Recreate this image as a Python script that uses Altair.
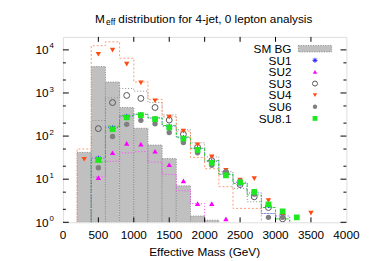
import altair as alt
import pandas as pd

# ---------------- data ----------------
BIN = 200
bg_lo = [200, 400, 600, 800, 1000, 1200, 1400, 1600, 1800, 2000]
bg_val = [42, 4100, 1800, 460, 152, 62, 30, 7.0, 1.4, 1.12]

su1_x = [500, 700, 900, 1100, 1300, 1500, 1700, 1900, 2100, 2300, 2500, 2700, 2900, 3100]
su1_y = [30, 150, 280, 310, 250, 165, 90, 50, 25, 13, 8.0, 5.0, 2.5, 1.5]
su2_x = [500, 700, 900, 1100, 1300, 1500, 1700, 1900, 2100, 2300]
su2_y = [10.9, 41, 68, 65, 44.5, 21.6, 9.1, 2.7, 2.7, 1.2]
su3_x = [500, 700, 900, 1100, 1300, 1500, 1700, 1900, 2100, 2300, 2500, 2700, 2900, 3100]
su3_y = [149, 600, 877, 748, 460, 235, 110, 55, 27, 14, 7.5, 3.9, 2.2, 1.2]
su4_x = [300, 500, 700, 900, 1100, 1300, 1500, 1700, 1900, 2100, 2300, 2500, 2700, 2900, 3100, 3500]
su4_y = [29, 7900, 9900, 4660, 1710, 660, 275, 130, 63, 33, 16, 9.5, 10.3, 3.2, 1.43, 1.63]
su6_x = [500, 700, 900, 1100, 1300, 1500, 1700, 1900, 2100, 2300, 2500, 2700, 2900, 3100]
su6_y = [18.4, 98, 187, 232, 193, 121, 71, 41, 21, 15, 9.0, 4.5, 1.3, 1.3]
su81_x = [500, 700, 900, 1100, 1300, 1500, 1700, 1900, 2100, 2300, 2500, 2700, 2900, 3100, 3300]
su81_y = [28, 144, 270, 305, 246, 160, 87, 48, 24, 12.3, 8.4, 5.1, 2.6, 1.8, 1.3]

# step outlines (first bin edge, then one value per 200 GeV bin)
su1_step_start, su1_step = 400, [31, 160, 290, 320, 262, 170, 92, 52, 26, 13, 8.5, 4.8, 1.6, 1.4]
su2_step_start, su2_step = 400, [11.3, 26, 41, 43.6, 25, 12.9, 5.4, 2.7]
su3_step_start, su3_step = 400, [230, 770, 1270, 1100, 600, 310, 140, 70, 33, 15, 6.1, 3.0, 1.6]
su4_step_start, su4_step = 200, [50, 12500, 15400, 6400, 1800, 710, 280, 130, 32, 17.5, 6.7, 2.1, 2.1]
su81_step_start, su81_step = 400, [25, 170, 300, 320, 265, 175, 95, 52, 27, 13, 8.0, 4.3, 2.2, 1.2]

x_ticks = [0, 500, 1000, 1500, 2000, 2500, 3000, 3500, 4000]
y_major = [1, 10, 100, 1000, 10000]
y_exp = ["0", "1", "2", "3", "4"]
y_minor = [2, 5, 20, 50, 200, 500, 2000, 5000]

legend_names = ["SM BG", "SU1", "SU2", "SU3", "SU4", "SU6", "SU8.1"]
title_parts = ["M", "eff", "distribution for 4-jet, 0 lepton analysis"]
x_title = "Effective Mass (GeV)"

# ---------------- layout ----------------
W, H = 289, 189
FONT = "Liberation Sans"
XS = alt.Scale(domain=[0, 4000], nice=False, zero=False)
YS = alt.Scale(type="log", domain=[1, 20000], nice=False)

def X(f):
    return alt.X(f, type="quantitative", scale=XS, axis=None)

def Y(f):
    return alt.Y(f, type="quantitative", scale=YS, axis=None)

layers = []

# SM background boxes
bg = pd.DataFrame({"lo": bg_lo, "hi": [v + BIN for v in bg_lo], "val": bg_val, "base": [1.0] * len(bg_lo)})
layers.append(
    alt.Chart(bg).mark_rect(fill="#c0c0c0", stroke="#8a8a8a", strokeDash=[1, 1.5], strokeWidth=1, clip=True)
    .encode(x=X("lo"), x2="hi", y=Y("val"), y2="base")
)

def step_df(start, vals):
    xs, ys = [start], [1.0]
    for i, v in enumerate(vals):
        lo = start + i * BIN
        xs += [lo, lo + BIN]
        ys += [v, v]
    xs.append(start + len(vals) * BIN)
    ys.append(1.0)
    return pd.DataFrame({"x": xs, "y": ys, "i": list(range(len(xs)))})

steps = [
    (su3_step_start, su3_step, "#8c8c8c", [1, 2]),
    (su2_step_start, su2_step, "#ff40ff", [1, 2]),
    (su1_step_start, su1_step, "#5050ff", [1, 2]),
    (su81_step_start, su81_step, "#30d030", [3, 2]),
    (su4_step_start, su4_step, "#ff9a70", [2, 2]),
]
for start, vals, col, dash in steps:
    layers.append(
        alt.Chart(step_df(start, vals)).mark_line(color=col, strokeDash=dash, strokeWidth=1, clip=True)
        .encode(x=X("x"), y=Y("y"), order=alt.Order("i:Q"))
    )

ASTER = "M-1,0L1,0M0,-1L0,1M-0.7,-0.7L0.7,0.7M-0.7,0.7L0.7,-0.7"
series = [
    ("SU1", su1_x, su1_y, dict(shape=ASTER, filled=False, stroke="#2020ff", strokeWidth=1, size=36)),
    ("SU2", su2_x, su2_y, dict(shape="triangle-up", filled=True, color="#ff00ff", size=30)),
    ("SU3", su3_x, su3_y, dict(shape="circle", filled=False, stroke="#555555", strokeWidth=1, size=36)),
    ("SU4", su4_x, su4_y, dict(shape="triangle-down", filled=True, color="#ff4a12", size=30)),
    ("SU6", su6_x, su6_y, dict(shape="circle", filled=True, color="#7f7f7f", size=30)),
    ("SU8.1", su81_x, su81_y, dict(shape="square", filled=True, color="#1ee81e", size=34)),
]
for name, xs, ys, style in series:
    df = pd.DataFrame({"x": xs, "y": ys})
    layers.append(alt.Chart(df).mark_point(opacity=1, clip=True, **style).encode(x=X("x"), y=Y("y")))

# inward ticks on all four sides
ytm = pd.DataFrame({"v": y_major})
ytn = pd.DataFrame({"v": y_minor})
xt = pd.DataFrame({"v": x_ticks[1:-1]})
tick_style = dict(color="black", strokeWidth=1)
layers += [
    alt.Chart(ytm).mark_rule(**tick_style).encode(y=Y("v"), x=alt.value(0), x2=alt.value(6)),
    alt.Chart(ytm).mark_rule(**tick_style).encode(y=Y("v"), x=alt.value(W - 6), x2=alt.value(W)),
    alt.Chart(ytn).mark_rule(**tick_style).encode(y=Y("v"), x=alt.value(0), x2=alt.value(3)),
    alt.Chart(ytn).mark_rule(**tick_style).encode(y=Y("v"), x=alt.value(W - 3), x2=alt.value(W)),
    alt.Chart(xt).mark_rule(**tick_style).encode(x=X("v"), y=alt.value(H), y2=alt.value(H - 5)),
    alt.Chart(xt).mark_rule(**tick_style).encode(x=X("v"), y=alt.value(0), y2=alt.value(5)),
]

# tick labels
xl = pd.DataFrame({"v": x_ticks, "t": [str(v) for v in x_ticks]})
layers.append(
    alt.Chart(xl).mark_text(font=FONT, fontSize=12, align="center", baseline="alphabetic", color="black")
    .encode(x=X("v"), y=alt.value(H + 17.4), text="t:N")
)
yl = pd.DataFrame({"v": y_major, "e": y_exp, "b": ["10"] * len(y_major)})
layers.append(
    alt.Chart(yl).mark_text(font=FONT, fontSize=12, align="right", baseline="alphabetic", dy=4.3, color="black")
    .encode(y=Y("v"), x=alt.value(-14.7), text="b:N")
)
layers.append(
    alt.Chart(yl).mark_text(font=FONT, fontSize=8, align="left", baseline="alphabetic", dy=-1.5, color="black")
    .encode(y=Y("v"), x=alt.value(-13.7), text="e:N")
)

# axis title and chart title (with subscript)
one = pd.DataFrame({"t": [x_title]})
layers.append(
    alt.Chart(one).mark_text(font=FONT, fontSize=12, align="center", baseline="alphabetic", color="black")
    .encode(x=alt.value(W / 2), y=alt.value(H + 34.7), text="t:N")
)
tt = pd.DataFrame({"t": title_parts, "px": [32.7, 44.0, 56.5], "py": [-14.3, -11.7, -14.3],
                   "fs": [12, 8.5, 12]})
layers.append(
    alt.Chart(tt).mark_text(font=FONT, align="left", baseline="alphabetic", color="black")
    .encode(x=alt.X("px:Q", scale=None), y=alt.Y("py:Q", scale=None), text="t:N",
            size=alt.Size("fs:Q", scale=None, legend=None))
)

# legend (gnuplot style: label on the left, sample on the right)
LX_TEXT, LX_SYM, LY0, LSTEP = 233, 257, 16.3, 11.85
lg = pd.DataFrame({"t": legend_names, "ly": [LY0 + i * LSTEP for i in range(len(legend_names))]})
layers.append(
    alt.Chart(lg).mark_text(font=FONT, fontSize=12, align="right", baseline="alphabetic", color="black")
    .encode(x=alt.value(LX_TEXT), y=alt.Y("ly:Q", scale=None), text="t:N")
)
sw = pd.DataFrame({"a": [LX_SYM - 17], "b": [LX_SYM + 17], "c": [LY0 - 4.3 - 3.3], "d": [LY0 - 4.3 + 3.3]})
layers.append(
    alt.Chart(sw).mark_rect(fill="#c0c0c0", stroke="#8a8a8a", strokeDash=[1, 1.5], strokeWidth=1)
    .encode(x=alt.X("a:Q", scale=None), x2="b", y=alt.Y("c:Q", scale=None), y2="d")
)
for k, (name, xs, ys, style) in enumerate(series):
    st = dict(style)
    st["size"] = max(18, st["size"] - 10)
    df = pd.DataFrame({"ly": [LY0 + (k + 1) * LSTEP - 4.3]})
    layers.append(
        alt.Chart(df).mark_point(opacity=1, **st).encode(x=alt.value(LX_SYM), y=alt.Y("ly:Q", scale=None))
    )

chart = (
    alt.layer(*layers)
    .properties(width=W, height=H, autosize=alt.AutoSizeParams(type="none"),
                padding={"left": 56, "top": 27, "right": 20, "bottom": 37})
    .configure_view(stroke="black", strokeWidth=1)
    .configure(background="white")
)
chart.save("out.html", embed_options={"renderer": "svg", "actions": False})
